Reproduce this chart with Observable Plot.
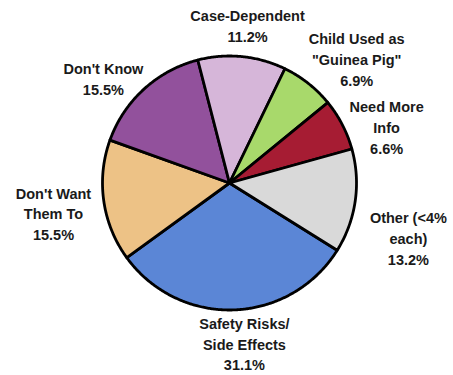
<!DOCTYPE html>
<html><head><meta charset="utf-8">
<script src="https://cdn.jsdelivr.net/npm/d3@7"></script>
<script src="https://cdn.jsdelivr.net/npm/@observablehq/plot@0.6"></script>
<style>body{margin:0;background:#fff}</style>
</head><body><div id="chart"></div>
<script>
// ---- data ----
const categories = ["Safety Risks", "Don't Want Them To", "Don't Know", "Case-Dependent", "Child Used as Guinea Pig", "Need More Info", "Other"];
const labelText = ["Safety Risks/\nSide Effects", "Don't Want\nThem To", "Don't Know", "Case-Dependent", "Child Used as\n\"Guinea Pig\"", "Need More\nInfo", "Other (<4%\neach)"];
const percents = [31.1, 15.5, 15.5, 11.2, 6.9, 6.6, 13.2];
const colors = ["#5b86d6", "#edc286", "#92519c", "#d6b6d9", "#a8d96b", "#a61c33", "#d9d9d9"];

// ---- layout ----
const W = 453, H = 375, cx = 229, cy = 182.5, R = 127, startDeg = 122;
const labelDist = [161, 178.5, 164, 159, 178, 167, 187];
const labelNudge = [-3.3, -1.4, -7.9, 0.8, 7.3, 7.6, 8.7];

const total = d3.sum(percents);
let acc = startDeg;
const slices = categories.map((c, i) => {
  const a0 = acc, a1 = acc + percents[i] / total * 360;
  acc = a1;
  return {c, i, a0, a1, mid: (a0 + a1) / 2};
});
const pt = (deg, r) => {
  const t = deg * Math.PI / 180;
  return [cx + r * Math.sin(t), cy - r * Math.cos(t)];
};
const polyPts = slices.flatMap(s => {
  const n = Math.max(2, Math.ceil((s.a1 - s.a0) / 0.5));
  const pts = [{c: s.c, x: cx, y: cy}];
  for (let k = 0; k <= n; k++) {
    const [x, y] = pt(s.a0 + (s.a1 - s.a0) * k / n, R);
    pts.push({c: s.c, x, y});
  }
  pts.push({c: s.c, x: cx, y: cy});
  return pts;
});
const labelData = slices.map(s => {
  const [x, y] = pt(s.mid + labelNudge[s.i], labelDist[s.i]);
  return {x, y, text: `${labelText[s.i]}\n${percents[s.i].toFixed(1)}%`};
});

const chart = Plot.plot({
  width: W, height: H, margin: 0,
  x: {domain: [0, W], axis: null},
  y: {domain: [0, H], reverse: true, axis: null},
  color: {domain: categories, range: colors},
  style: {background: "#fff"},
  marks: [
    Plot.line(polyPts, {x: "x", y: "y", z: "c", fill: "c", stroke: "#000", strokeWidth: 2.8, strokeLinejoin: "round", curve: "linear"}),
    Plot.text(labelData, {x: "x", y: "y", text: "text", fontSize: 14.5, fontWeight: 700,
      fontFamily: "'Liberation Sans', Arial, sans-serif", lineHeight: 1.42, fill: "#1a1a1a",
      textAnchor: "middle", lineAnchor: "middle"})
  ]
});
document.getElementById("chart").append(chart);
</script>
</body></html>
